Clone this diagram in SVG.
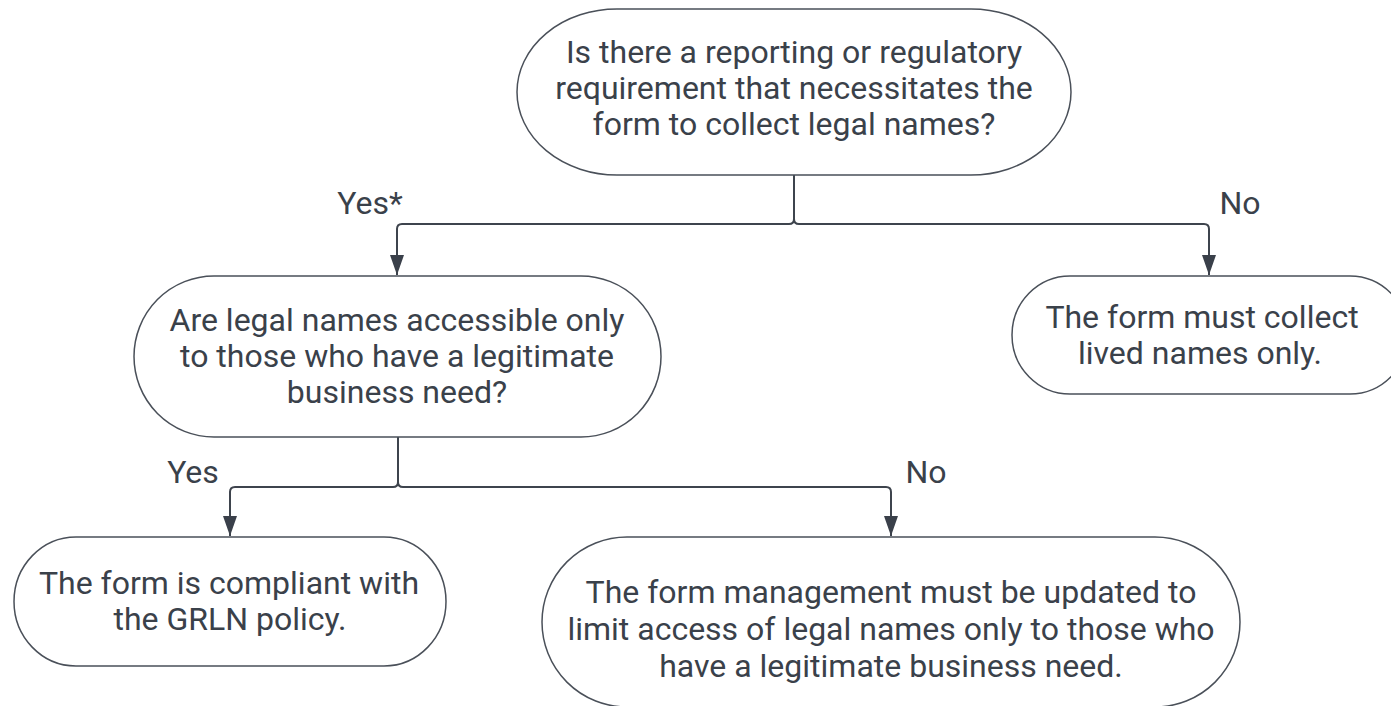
<svg xmlns="http://www.w3.org/2000/svg" width="1391" height="706" viewBox="0 0 1391 706">
<style>
  .node { fill: #ffffff; stroke: #4a5059; stroke-width: 1.5; }
  .t { font-family: Roboto, "Liberation Sans", sans-serif; font-size: 32px; fill: #3a414a; text-anchor: middle; }
  .lbl { font-family: Roboto, "Liberation Sans", sans-serif; font-size: 32px; fill: #3a414a; text-anchor: middle; }
  .edge { fill: none; stroke: #3e444d; stroke-width: 2; }
</style>
<defs>
  <marker id="arr" markerWidth="20" markerHeight="14" refX="20" refY="7" orient="auto" markerUnits="userSpaceOnUse" viewBox="0 0 20 14">
    <path d="M0,0 L20,7 L0,14 Z" fill="#3a404a"/>
  </marker>
</defs>
<rect width="1391" height="706" fill="#ffffff"/>
<g id="connectors">
  <path class="edge" d="M794,175 V219 Q794,224 789,224 H402 Q397,224 397,229 V275" marker-end="url(#arr)"/>
  <path class="edge" d="M794,175 V219 Q794,224 799,224 H1204 Q1209,224 1209,229 V275" marker-end="url(#arr)"/>
  <path class="edge" d="M398,437 V482 Q398,487 393,487 H235 Q230,487 230,492 V536" marker-end="url(#arr)"/>
  <path class="edge" d="M398,437 V482 Q398,487 403,487 H886 Q891,487 891,492 V536" marker-end="url(#arr)"/>
  <text class="lbl" x="370" y="214">Yes*</text>
  <text class="lbl" x="1240" y="214">No</text>
  <text class="lbl" x="193" y="483">Yes</text>
  <text class="lbl" x="926" y="483">No</text>
</g>
<g id="n1">
  <rect class="node" x="517" y="9" width="554" height="166" rx="100" ry="83"/>
  <text class="t" x="794" y="63">Is there a reporting or regulatory</text>
  <text class="t" x="794" y="99">requirement that necessitates the</text>
  <text class="t" x="794" y="135">form to collect legal names?</text>
</g>
<g id="n2">
  <rect class="node" x="134" y="276" width="527" height="161" rx="80" ry="80.5"/>
  <text class="t" x="397" y="331">Are legal names accessible only</text>
  <text class="t" x="397" y="367">to those who have a legitimate</text>
  <text class="t" x="397" y="403">business need?</text>
</g>
<g id="n3">
  <rect class="node" x="1012" y="276" width="396" height="118" rx="58" ry="59"/>
  <text class="t" x="1202" y="328">The form must collect</text>
  <text class="t" x="1200" y="364">lived names only.</text>
</g>
<g id="n4">
  <rect class="node" x="14" y="537" width="432" height="129" rx="62" ry="64.5"/>
  <text class="t" x="229" y="594">The form is compliant with</text>
  <text class="t" x="230" y="630">the GRLN policy.</text>
</g>
<g id="n5">
  <rect class="node" x="542" y="537" width="698" height="170" rx="85" ry="85"/>
  <text class="t" x="891" y="603">The form management must be updated to</text>
  <text class="t" x="891" y="640">limit access of legal names only to those who</text>
  <text class="t" x="891" y="677">have a legitimate business need.</text>
</g>
</svg>
